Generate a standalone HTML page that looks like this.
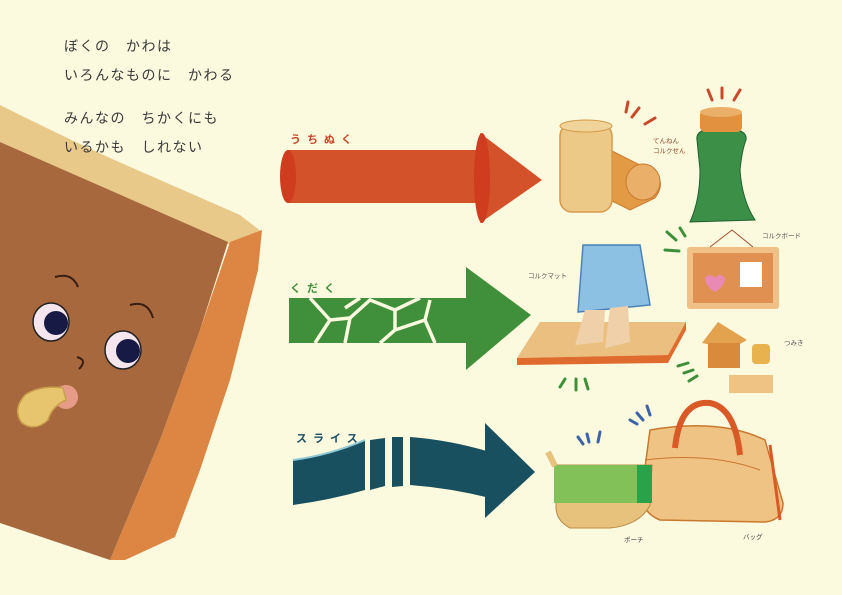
<!DOCTYPE html>
<html><head><meta charset="utf-8"><style>
html,body{margin:0;padding:0;background:#fbf9de;}
svg{display:block}
text{font-family:"Liberation Sans","Noto Sans CJK JP",sans-serif;}
</style></head><body>
<svg width="842" height="595" viewBox="0 0 842 595" xmlns="http://www.w3.org/2000/svg">
<rect width="842" height="595" fill="#fbf9de"/>
<!-- cork block -->
<path d="M0,105 Q60,135 110,158 L240,215 L262,232 L230,245 L0,142 Z" fill="#e9c98a"/>
<polygon points="230,242 262,230 258,270 230,380 200,470 175,537 125,560 110,560 160,440 200,330" fill="#dd8643"/>
<polygon points="0,142 228,242 200,330 160,440 110,560 0,523" fill="#a8683e"/>
<!-- face -->
<path d="M55,277 Q72,272 78,287" stroke="#3a1e10" stroke-width="2" fill="none"/>
<path d="M130,305 Q148,300 153,318" stroke="#3a1e10" stroke-width="2" fill="none"/>
<ellipse cx="51" cy="322" rx="18" ry="19" fill="#f4e6ec" stroke="#222" stroke-width="1.5"/>
<circle cx="56" cy="323" r="12" fill="#161a44"/>
<ellipse cx="123" cy="350" rx="18" ry="19" fill="#f4e6ec" stroke="#222" stroke-width="1.5"/>
<circle cx="128" cy="351" r="12" fill="#161a44"/>
<path d="M77,357 Q88,360 79,369" stroke="#3a1e10" stroke-width="2" fill="none"/>
<circle cx="66" cy="397" r="12" fill="#e59b88"/>
<path d="M63,388 Q40,385 25,395 Q12,410 22,423 Q35,432 48,420 Q52,406 66,400 Z" fill="#e7c56f" stroke="#c9a04a" stroke-width="1.5"/>
<!-- text -->
<g font-size="14" fill="#3a3a3a" letter-spacing="1.5">
<text x="64" y="51">ぼくの　かわは</text>
<text x="64" y="80">いろんなものに　かわる</text>
<text x="64" y="123">みんなの　ちかくにも</text>
<text x="64" y="152">いるかも　しれない</text>
</g>
<!-- red arrow -->
<text x="290" y="143" font-size="11" fill="#c9492a" letter-spacing="6" font-weight="bold">うちぬく</text>
<rect x="288" y="150" width="195" height="53" fill="#d4522a"/>
<ellipse cx="288" cy="176.5" rx="8" ry="26.5" fill="#cf3c1e"/>
<polygon points="480,133 542,180 480,223" fill="#d4522a"/>
<ellipse cx="482" cy="178" rx="8" ry="45" fill="#cf3c1e"/>
<!-- green arrow -->
<text x="290" y="292" font-size="11" fill="#3d8f3a" letter-spacing="6" font-weight="bold">くだく</text>
<rect x="289" y="298" width="178" height="45" fill="#3f8f3b"/>
<polygon points="466,267 531,315 466,370" fill="#3f8f3b"/>
<g stroke="#fbf9de" stroke-width="3.5" fill="none">
<path d="M310,298 L330,320 L315,343"/>
<path d="M330,320 L350,318 L345,343"/>
<path d="M350,318 L370,300 L395,310 L395,330 L380,343"/>
<path d="M345,308 L360,298"/>
<path d="M395,310 L420,298"/>
<path d="M395,330 L425,320 L435,343"/>
<path d="M425,320 L430,300"/>
</g>
<!-- teal arrow -->
<text x="296" y="442" font-size="11" fill="#1b4f66" letter-spacing="6" font-weight="bold">スライス</text>
<path d="M293,460 Q330,455 365,440 L365,490 Q330,500 293,505 Z" fill="#18505f"/>
<path d="M370,440 L385,438 L385,486 L370,490 Z" fill="#18505f"/>
<path d="M392,437 L403,437 L403,486 L392,487 Z" fill="#18505f"/>
<path d="M410,437 Q450,440 490,452 L490,498 Q450,488 410,485 Z" fill="#18505f"/>
<polygon points="485,423 535,472 485,518" fill="#18505f"/>
<path d="M293,460 Q330,455 365,440" stroke="#8ec9d6" stroke-width="2" fill="none"/>
<!-- corks -->
<path d="M610,150 L650,170 Q668,180 655,198 L630,210 L600,195 Z" fill="#e39a45" stroke="#c77a2e"/>
<ellipse cx="643" cy="182" rx="17" ry="18" fill="#eab06a" stroke="#c77a2e"/>
<rect x="560" y="124" width="52" height="88" rx="12" fill="#edc988" stroke="#d49a4a" stroke-width="1.5"/>
<ellipse cx="586" cy="126" rx="26" ry="6" fill="#f0d49a" stroke="#d49a4a"/>
<g stroke="#c9492a" stroke-width="3" stroke-linecap="round"><line x1="628" y1="102" x2="626" y2="112"/><line x1="639" y1="108" x2="632" y2="117"/><line x1="655" y1="118" x2="645" y2="124"/></g>
<text x="653" y="143" font-size="6.5" fill="#8a4a2a">てんねん</text>
<text x="653" y="153" font-size="6.5" fill="#8a4a2a">コルクせん</text>
<!-- bottle -->
<path d="M697,140 Q695,128 720,128 Q748,128 746,140 Q742,150 740,170 Q742,200 755,220 L690,222 Q700,200 700,170 Q698,150 697,140 Z" fill="#3b8f47" stroke="#1f5f2e"/>
<rect x="700" y="110" width="42" height="22" rx="5" fill="#e2923f"/>
<ellipse cx="721" cy="112" rx="21" ry="5" fill="#eab06a"/>
<g stroke="#c9492a" stroke-width="3" stroke-linecap="round"><line x1="708" y1="90" x2="712" y2="100"/><line x1="722" y1="88" x2="722" y2="98"/><line x1="740" y1="90" x2="734" y2="100"/></g>
<!-- mat -->
<polygon points="540,322 686,322 668,355 517,358" fill="#eabf80"/>
<polygon points="517,358 668,355 668,363 517,365" fill="#e06b2e"/>
<polygon points="686,322 686,330 668,363 668,355" fill="#e06b2e"/>
<path d="M583,245 L640,245 L650,305 L578,312 Z" fill="#8cc1e4" stroke="#4a83b5" stroke-width="1.5"/>
<path d="M585,310 L605,310 L603,342 L575,345 Z" fill="#f0d0a8"/>
<path d="M610,308 L628,306 L630,342 L605,348 Z" fill="#f0d0a8"/>
<text x="528" y="278" font-size="6.5" fill="#555">コルクマット</text>
<g stroke="#3d8f3a" stroke-width="3" stroke-linecap="round"><line x1="560" y1="387" x2="565" y2="379"/><line x1="576" y1="390" x2="576" y2="379"/><line x1="588" y1="389" x2="585" y2="379"/></g>
<!-- board -->
<rect x="687" y="247" width="92" height="62" rx="3" fill="#f0c086"/>
<rect x="693" y="253" width="80" height="50" fill="#e09050"/>
<rect x="740" y="262" width="22" height="25" fill="#fff"/>
<path d="M705,278 q5,-6 10,0 q5,-6 10,0 q0,8 -10,14 q-10,-6 -10,-14z" fill="#e98ab5"/>
<path d="M710,247 L732,230 L753,247" stroke="#a05030" fill="none"/>
<text x="762" y="238" font-size="6.5" fill="#555">コルクボード</text>
<g stroke="#3d8f3a" stroke-width="3" stroke-linecap="round"><line x1="665" y1="250" x2="679" y2="251"/><line x1="667" y1="232" x2="676" y2="240"/><line x1="680" y1="228" x2="685" y2="236"/></g>
<!-- blocks -->
<polygon points="702,343 718,322 747,340 738,345 712,345" fill="#e3a24e"/>
<rect x="708" y="343" width="32" height="25" fill="#d98a3a"/>
<rect x="752" y="344" width="18" height="20" rx="4" fill="#e8b24f"/>
<rect x="729" y="375" width="44" height="18" fill="#eec383"/>
<text x="784" y="345" font-size="6.5" fill="#555">つみき</text>
<g stroke="#3d8f3a" stroke-width="3" stroke-linecap="round"><line x1="678" y1="366" x2="688" y2="363"/><line x1="684" y1="373" x2="693" y2="370"/><line x1="689" y1="381" x2="697" y2="376"/></g>
<!-- bags -->
<g stroke="#3d63a8" stroke-width="3" stroke-linecap="round"><line x1="578" y1="437" x2="583" y2="444"/><line x1="587" y1="434" x2="589" y2="442"/><line x1="600" y1="432" x2="598" y2="442"/><line x1="630" y1="420" x2="637" y2="424"/><line x1="637" y1="413" x2="643" y2="420"/><line x1="647" y1="406" x2="650" y2="415"/></g>
<path d="M650,430 Q720,418 765,440 L783,503 Q783,520 765,522 L660,520 Q640,512 642,490 Z" fill="#eec383" stroke="#c9782e" stroke-width="1.5"/>
<path d="M645,460 Q710,452 760,470" stroke="#c9782e" fill="none"/>
<path d="M770,445 L780,520" stroke="#d95a26" stroke-width="3"/>
<path d="M675,448 Q680,400 710,403 Q735,408 740,455" stroke="#d95a26" stroke-width="6" fill="none"/>
<path d="M556,465 L652,465 L650,505 Q640,525 610,528 L570,528 Q555,520 556,505 Z" fill="#e6c27c" stroke="#b98a44"/>
<rect x="554" y="465" width="98" height="38" fill="#82c157"/>
<rect x="637" y="465" width="15" height="38" fill="#2aa24a"/>
<path d="M548,452 L555,466" stroke="#e6c27c" stroke-width="6"/>
<text x="624" y="542" font-size="6.5" fill="#444">ポーチ</text>
<text x="743" y="539" font-size="6.5" fill="#444">バッグ</text>
</svg>
</body></html>
